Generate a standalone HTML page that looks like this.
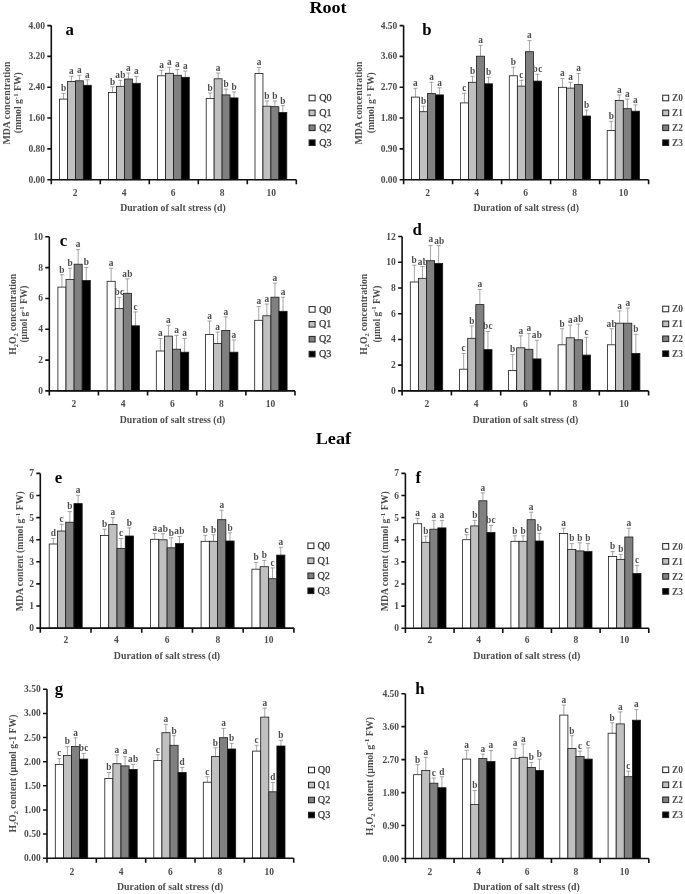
<!DOCTYPE html>
<html lang="en"><head><meta charset="utf-8"><title>MDA and H2O2 under salt stress</title>
<style>
html,body{margin:0;padding:0;background:#fff;}
body{width:685px;height:894px;overflow:hidden;}
svg{display:block;font-family:"Liberation Serif","Times New Roman",serif;}
.bar{stroke:#1a1a1a;stroke-width:0.8;}
.eb{stroke:#808080;stroke-width:0.7;fill:none;}
.ax{stroke:#111;stroke-width:1.6;fill:none;stroke-linecap:butt;}
.lt{font-size:9.3px;font-weight:bold;fill:#4c4c4c;text-anchor:middle;}
.yt{font-size:9.5px;font-weight:bold;fill:#4c4c4c;text-anchor:end;}
.xt{font-size:9.5px;font-weight:bold;fill:#4c4c4c;text-anchor:middle;}
.xl{font-size:9.6px;font-weight:bold;fill:#4c4c4c;text-anchor:middle;}
.yl{font-size:9.6px;font-weight:bold;fill:#4c4c4c;text-anchor:middle;}
.pl{font-size:16.8px;font-weight:bold;fill:#000;}
.ttl{font-size:17px;font-weight:bold;fill:#000;text-anchor:middle;}
.lg{stroke:#222;stroke-width:1;}
.lzb{font-size:9.4px;font-weight:bold;fill:#4c4c4c;}
.lzr{font-size:10.2px;font-weight:normal;fill:#333;stroke:#333;stroke-width:0.25;}
</style></head>
<body>
<svg width="685" height="894" viewBox="0 0 685 894">
<rect width="685" height="894" fill="#fff"/>
<g id="panel-a">
<path class="eb" d="M63.48 99.1V93.4M61.38 93.4H65.58"/>
<rect class="bar" x="59.5" y="99.1" width="7.95" height="80.6" fill="#ffffff"/>
<path class="eb" d="M71.42 81.6V76.3M69.33 76.3H73.52"/>
<rect class="bar" x="67.45" y="81.6" width="7.95" height="98.1" fill="#c0c0c0"/>
<path class="eb" d="M79.38 80.8V75.3M77.28 75.3H81.47"/>
<rect class="bar" x="75.4" y="80.8" width="7.95" height="98.9" fill="#808080"/>
<path class="eb" d="M87.32 85.3V79.8M85.22 79.8H89.42"/>
<rect class="bar" x="83.35" y="85.3" width="7.95" height="94.4" fill="#000000"/>
<path class="eb" d="M112.47 92.4V86.8M110.38 86.8H114.57"/>
<rect class="bar" x="108.5" y="92.4" width="7.95" height="87.3" fill="#ffffff"/>
<path class="eb" d="M120.42 86.3V80.3M118.33 80.3H122.52"/>
<rect class="bar" x="116.45" y="86.3" width="7.95" height="93.4" fill="#c0c0c0"/>
<path class="eb" d="M128.38 79V73M126.28 73H130.47"/>
<rect class="bar" x="124.4" y="79" width="7.95" height="100.7" fill="#808080"/>
<path class="eb" d="M136.32 83.3V76.5M134.22 76.5H138.42"/>
<rect class="bar" x="132.35" y="83.3" width="7.95" height="96.4" fill="#000000"/>
<path class="eb" d="M161.47 75.8V70.3M159.38 70.3H163.57"/>
<rect class="bar" x="157.5" y="75.8" width="7.95" height="103.9" fill="#ffffff"/>
<path class="eb" d="M169.42 73.3V67.2M167.32 67.2H171.52"/>
<rect class="bar" x="165.45" y="73.3" width="7.95" height="106.4" fill="#c0c0c0"/>
<path class="eb" d="M177.38 75.3V69.5M175.28 69.5H179.47"/>
<rect class="bar" x="173.4" y="75.3" width="7.95" height="104.4" fill="#808080"/>
<path class="eb" d="M185.32 77.3V71M183.22 71H187.42"/>
<rect class="bar" x="181.35" y="77.3" width="7.95" height="102.4" fill="#000000"/>
<path class="eb" d="M210.17 98.4V92.9M208.07 92.9H212.27"/>
<rect class="bar" x="206.2" y="98.4" width="7.95" height="81.3" fill="#ffffff"/>
<path class="eb" d="M218.12 78.8V73M216.02 73H220.22"/>
<rect class="bar" x="214.15" y="78.8" width="7.95" height="100.9" fill="#c0c0c0"/>
<path class="eb" d="M226.07 94.9V89.1M223.97 89.1H228.17"/>
<rect class="bar" x="222.1" y="94.9" width="7.95" height="84.8" fill="#808080"/>
<path class="eb" d="M234.02 97.9V91.9M231.92 91.9H236.12"/>
<rect class="bar" x="230.05" y="97.9" width="7.95" height="81.8" fill="#000000"/>
<path class="eb" d="M258.98 73.5V67.5M256.88 67.5H261.08"/>
<rect class="bar" x="255" y="73.5" width="7.95" height="106.2" fill="#ffffff"/>
<path class="eb" d="M266.93 106.2V100.9M264.82 100.9H269.03"/>
<rect class="bar" x="262.95" y="106.2" width="7.95" height="73.5" fill="#c0c0c0"/>
<path class="eb" d="M274.88 106.7V100.9M272.77 100.9H276.98"/>
<rect class="bar" x="270.9" y="106.7" width="7.95" height="73" fill="#808080"/>
<path class="eb" d="M282.83 112.5V105.7M280.73 105.7H284.93"/>
<rect class="bar" x="278.85" y="112.5" width="7.95" height="67.2" fill="#000000"/>
<text class="lt" x="63.48" y="91.2">b</text>
<text class="lt" x="71.42" y="74.1">a</text>
<text class="lt" x="79.38" y="73.1">a</text>
<text class="lt" x="87.32" y="77.6">a</text>
<text class="lt" x="112.47" y="84.6">b</text>
<text class="lt" letter-spacing="0.35" x="120.58" y="78.1">ab</text>
<text class="lt" x="128.38" y="70.8">a</text>
<text class="lt" x="136.32" y="74.3">a</text>
<text class="lt" x="161.47" y="68.1">a</text>
<text class="lt" x="169.42" y="65">a</text>
<text class="lt" x="177.38" y="67.3">a</text>
<text class="lt" x="185.32" y="68.8">a</text>
<text class="lt" x="210.17" y="90.7">b</text>
<text class="lt" x="218.12" y="70.8">a</text>
<text class="lt" x="226.07" y="86.9">b</text>
<text class="lt" x="234.02" y="89.7">b</text>
<text class="lt" x="258.98" y="65.3">a</text>
<text class="lt" x="266.93" y="98.7">b</text>
<text class="lt" x="274.88" y="98.7">b</text>
<text class="lt" x="282.83" y="103.5">b</text>
<path class="ax" d="M51.3 25.6V179.7H296.3M47.3 25.6H51.3M47.3 56.42H51.3M47.3 87.24H51.3M47.3 118.06H51.3M47.3 148.88H51.3M47.3 179.7H51.3M51.3 179.7V184.3M100.3 179.7V184.3M149.3 179.7V184.3M198.3 179.7V184.3M247.3 179.7V184.3M296.3 179.7V184.3"/>
<text class="yt" x="45" y="28.65">4.00</text>
<text class="yt" x="45" y="59.47">3.20</text>
<text class="yt" x="45" y="90.29">2.40</text>
<text class="yt" x="45" y="121.11">1.60</text>
<text class="yt" x="45" y="151.93">0.80</text>
<text class="yt" x="45" y="182.75">0.00</text>
<text class="xt" x="75.2" y="196">2</text>
<text class="xt" x="124.2" y="196">4</text>
<text class="xt" x="173.2" y="196">6</text>
<text class="xt" x="222.2" y="196">8</text>
<text class="xt" x="271.2" y="196">10</text>
<text class="xl" x="172.9" y="211.4" textLength="105.5" lengthAdjust="spacingAndGlyphs">Duration of salt stress (d)</text>
<text class="yl" style="font-size:9.6px" transform="translate(9.9 103) rotate(-90)" textLength="83" lengthAdjust="spacingAndGlyphs">MDA concentration</text>
<text class="yl" style="font-size:9.6px" transform="translate(21.4 102.7) rotate(-90)" textLength="61" lengthAdjust="spacingAndGlyphs">(mmol g<tspan font-size="6.91" dy="-3.46">-1</tspan><tspan dy="3.46">&#8203;</tspan> FW)</text>
<text class="pl" x="65.5" y="34.6">a</text>
<rect class="lg" x="309.1" y="95.2" width="6" height="5.6" fill="#ffffff"/>
<text class="lzr" x="319.2" y="101.1">Q0</text>
<rect class="lg" x="309.1" y="110.1" width="6" height="5.6" fill="#c0c0c0"/>
<text class="lzr" x="319.2" y="116">Q1</text>
<rect class="lg" x="309.1" y="125" width="6" height="5.6" fill="#808080"/>
<text class="lzr" x="319.2" y="130.9">Q2</text>
<rect class="lg" x="309.1" y="139.9" width="6" height="5.6" fill="#000000"/>
<text class="lzr" x="319.2" y="145.8">Q3</text>
</g>
<g id="panel-b">
<path class="eb" d="M415.42 97.1V88.3M413.32 88.3H417.52"/>
<rect class="bar" x="411.4" y="97.1" width="8.05" height="82.6" fill="#ffffff"/>
<path class="eb" d="M423.47 111.7V106.2M421.37 106.2H425.57"/>
<rect class="bar" x="419.45" y="111.7" width="8.05" height="68" fill="#c0c0c0"/>
<path class="eb" d="M431.52 93.6V82.3M429.42 82.3H433.62"/>
<rect class="bar" x="427.5" y="93.6" width="8.05" height="86.1" fill="#808080"/>
<path class="eb" d="M439.57 94.9V87.8M437.47 87.8H441.67"/>
<rect class="bar" x="435.55" y="94.9" width="8.05" height="84.8" fill="#000000"/>
<path class="eb" d="M464.42 102.9V93.4M462.32 93.4H466.52"/>
<rect class="bar" x="460.4" y="102.9" width="8.05" height="76.8" fill="#ffffff"/>
<path class="eb" d="M472.47 82.3V76.3M470.37 76.3H474.57"/>
<rect class="bar" x="468.45" y="82.3" width="8.05" height="97.4" fill="#c0c0c0"/>
<path class="eb" d="M480.52 56.2V45.4M478.42 45.4H482.62"/>
<rect class="bar" x="476.5" y="56.2" width="8.05" height="123.5" fill="#808080"/>
<path class="eb" d="M488.57 83.8V77.3M486.47 77.3H490.67"/>
<rect class="bar" x="484.55" y="83.8" width="8.05" height="95.9" fill="#000000"/>
<path class="eb" d="M513.33 75.8V67.2M511.23 67.2H515.43"/>
<rect class="bar" x="509.3" y="75.8" width="8.05" height="103.9" fill="#ffffff"/>
<path class="eb" d="M521.38 86.1V80.3M519.27 80.3H523.48"/>
<rect class="bar" x="517.35" y="86.1" width="8.05" height="93.6" fill="#c0c0c0"/>
<path class="eb" d="M529.42 51.7V40.6M527.32 40.6H531.52"/>
<rect class="bar" x="525.4" y="51.7" width="8.05" height="128" fill="#808080"/>
<path class="eb" d="M537.48 81.1V74.3M535.38 74.3H539.58"/>
<rect class="bar" x="533.45" y="81.1" width="8.05" height="98.6" fill="#000000"/>
<path class="eb" d="M562.42 87.3V78.5M560.32 78.5H564.52"/>
<rect class="bar" x="558.4" y="87.3" width="8.05" height="92.4" fill="#ffffff"/>
<path class="eb" d="M570.47 88.1V82.3M568.37 82.3H572.57"/>
<rect class="bar" x="566.45" y="88.1" width="8.05" height="91.6" fill="#c0c0c0"/>
<path class="eb" d="M578.52 84.6V73.5M576.42 73.5H580.62"/>
<rect class="bar" x="574.5" y="84.6" width="8.05" height="95.1" fill="#808080"/>
<path class="eb" d="M586.57 116V110M584.47 110H588.67"/>
<rect class="bar" x="582.55" y="116" width="8.05" height="63.7" fill="#000000"/>
<path class="eb" d="M611.23 130.6V121.3M609.12 121.3H613.33"/>
<rect class="bar" x="607.2" y="130.6" width="8.05" height="49.1" fill="#ffffff"/>
<path class="eb" d="M619.27 100.4V94.9M617.17 94.9H621.38"/>
<rect class="bar" x="615.25" y="100.4" width="8.05" height="79.3" fill="#c0c0c0"/>
<path class="eb" d="M627.33 108.7V99.1M625.23 99.1H629.43"/>
<rect class="bar" x="623.3" y="108.7" width="8.05" height="71" fill="#808080"/>
<path class="eb" d="M635.38 111.2V104.9M633.27 104.9H637.48"/>
<rect class="bar" x="631.35" y="111.2" width="8.05" height="68.5" fill="#000000"/>
<text class="lt" x="415.42" y="86.1">a</text>
<text class="lt" x="423.47" y="104">b</text>
<text class="lt" x="431.52" y="80.1">a</text>
<text class="lt" x="439.57" y="85.6">a</text>
<text class="lt" x="464.42" y="91.2">c</text>
<text class="lt" x="472.47" y="74.1">b</text>
<text class="lt" x="480.52" y="43.2">a</text>
<text class="lt" x="488.57" y="75.1">b</text>
<text class="lt" x="513.33" y="65">b</text>
<text class="lt" x="521.38" y="78.1">c</text>
<text class="lt" x="529.42" y="38.4">a</text>
<text class="lt" letter-spacing="0.35" x="537.62" y="72.1">bc</text>
<text class="lt" x="562.42" y="76.3">a</text>
<text class="lt" x="570.47" y="80.1">a</text>
<text class="lt" x="578.52" y="71.3">a</text>
<text class="lt" x="586.57" y="107.8">b</text>
<text class="lt" x="611.23" y="119.1">b</text>
<text class="lt" x="619.27" y="92.7">a</text>
<text class="lt" x="627.33" y="96.9">a</text>
<text class="lt" x="635.38" y="102.7">a</text>
<path class="ax" d="M403.6 25.6V179.7H648.6M399.6 25.6H403.6M399.6 56.42H403.6M399.6 87.24H403.6M399.6 118.06H403.6M399.6 148.88H403.6M399.6 179.7H403.6M403.6 179.7V184.3M452.6 179.7V184.3M501.6 179.7V184.3M550.6 179.7V184.3M599.6 179.7V184.3M648.6 179.7V184.3"/>
<text class="yt" x="397.3" y="28.65">4.50</text>
<text class="yt" x="397.3" y="59.47">3.60</text>
<text class="yt" x="397.3" y="90.29">2.70</text>
<text class="yt" x="397.3" y="121.11">1.80</text>
<text class="yt" x="397.3" y="151.93">0.90</text>
<text class="yt" x="397.3" y="182.75">0.00</text>
<text class="xt" x="427.5" y="196">2</text>
<text class="xt" x="476.5" y="196">4</text>
<text class="xt" x="525.5" y="196">6</text>
<text class="xt" x="574.5" y="196">8</text>
<text class="xt" x="623.5" y="196">10</text>
<text class="xl" x="526.3" y="211.4" textLength="105.5" lengthAdjust="spacingAndGlyphs">Duration of salt stress (d)</text>
<text class="yl" style="font-size:9.6px" transform="translate(362 103) rotate(-90)" textLength="83" lengthAdjust="spacingAndGlyphs">MDA concentration</text>
<text class="yl" style="font-size:9.6px" transform="translate(374 102.7) rotate(-90)" textLength="61" lengthAdjust="spacingAndGlyphs">(mmol g<tspan font-size="6.91" dy="-3.46">-1</tspan><tspan dy="3.46">&#8203;</tspan> FW)</text>
<text class="pl" x="422.2" y="34.5">b</text>
<rect class="lg" x="662.7" y="95.2" width="6" height="5.6" fill="#ffffff"/>
<text class="lzb" x="672" y="101.1">Z0</text>
<rect class="lg" x="662.7" y="110.1" width="6" height="5.6" fill="#c0c0c0"/>
<text class="lzb" x="672" y="116">Z1</text>
<rect class="lg" x="662.7" y="125" width="6" height="5.6" fill="#808080"/>
<text class="lzb" x="672" y="130.9">Z2</text>
<rect class="lg" x="662.7" y="139.9" width="6" height="5.6" fill="#000000"/>
<text class="lzb" x="672" y="145.8">Z3</text>
</g>
<g id="panel-c">
<path class="eb" d="M61.95 287.1V274.7M59.85 274.7H64.05"/>
<rect class="bar" x="57.9" y="287.1" width="8.1" height="103.8" fill="#ffffff"/>
<path class="eb" d="M70.05 279.5V268.2M67.95 268.2H72.15"/>
<rect class="bar" x="66" y="279.5" width="8.1" height="111.4" fill="#c0c0c0"/>
<path class="eb" d="M78.15 264.2V249.6M76.05 249.6H80.25"/>
<rect class="bar" x="74.1" y="264.2" width="8.1" height="126.7" fill="#808080"/>
<path class="eb" d="M86.25 280.5V267.5M84.15 267.5H88.35"/>
<rect class="bar" x="82.2" y="280.5" width="8.1" height="110.4" fill="#000000"/>
<path class="eb" d="M111.15 281.3V268.2M109.05 268.2H113.25"/>
<rect class="bar" x="107.1" y="281.3" width="8.1" height="109.6" fill="#ffffff"/>
<path class="eb" d="M119.25 308.4V297.4M117.15 297.4H121.35"/>
<rect class="bar" x="115.2" y="308.4" width="8.1" height="82.5" fill="#c0c0c0"/>
<path class="eb" d="M127.35 293.3V278.8M125.25 278.8H129.45"/>
<rect class="bar" x="123.3" y="293.3" width="8.1" height="97.6" fill="#808080"/>
<path class="eb" d="M135.45 325.8V311.9M133.35 311.9H137.55"/>
<rect class="bar" x="131.4" y="325.8" width="8.1" height="65.1" fill="#000000"/>
<path class="eb" d="M160.35 351V338.4M158.25 338.4H162.45"/>
<rect class="bar" x="156.3" y="351" width="8.1" height="39.9" fill="#ffffff"/>
<path class="eb" d="M168.45 336.1V325.3M166.35 325.3H170.55"/>
<rect class="bar" x="164.4" y="336.1" width="8.1" height="54.8" fill="#c0c0c0"/>
<path class="eb" d="M176.55 349.2V335.4M174.45 335.4H178.65"/>
<rect class="bar" x="172.5" y="349.2" width="8.1" height="41.7" fill="#808080"/>
<path class="eb" d="M184.65 352.2V338.4M182.55 338.4H186.75"/>
<rect class="bar" x="180.6" y="352.2" width="8.1" height="38.7" fill="#000000"/>
<path class="eb" d="M209.55 334.6V321M207.45 321H211.65"/>
<rect class="bar" x="205.5" y="334.6" width="8.1" height="56.3" fill="#ffffff"/>
<path class="eb" d="M217.65 343.4V332.1M215.55 332.1H219.75"/>
<rect class="bar" x="213.6" y="343.4" width="8.1" height="47.5" fill="#c0c0c0"/>
<path class="eb" d="M225.75 330.4V316.8M223.65 316.8H227.85"/>
<rect class="bar" x="221.7" y="330.4" width="8.1" height="60.5" fill="#808080"/>
<path class="eb" d="M233.85 352.2V339.9M231.75 339.9H235.95"/>
<rect class="bar" x="229.8" y="352.2" width="8.1" height="38.7" fill="#000000"/>
<path class="eb" d="M258.75 320.3V306.5M256.65 306.5H260.85"/>
<rect class="bar" x="254.7" y="320.3" width="8.1" height="70.6" fill="#ffffff"/>
<path class="eb" d="M266.85 315.8V304M264.75 304H268.95"/>
<rect class="bar" x="262.8" y="315.8" width="8.1" height="75.1" fill="#c0c0c0"/>
<path class="eb" d="M274.95 297.2V283.1M272.85 283.1H277.05"/>
<rect class="bar" x="270.9" y="297.2" width="8.1" height="93.7" fill="#808080"/>
<path class="eb" d="M283.05 311.3V297.2M280.95 297.2H285.15"/>
<rect class="bar" x="279" y="311.3" width="8.1" height="79.6" fill="#000000"/>
<text class="lt" x="61.95" y="272.5">b</text>
<text class="lt" x="70.05" y="266">b</text>
<text class="lt" x="78.15" y="247.4">a</text>
<text class="lt" x="86.25" y="265.3">b</text>
<text class="lt" x="111.15" y="266">a</text>
<text class="lt" letter-spacing="0.35" x="119.4" y="295.2">bc</text>
<text class="lt" letter-spacing="0.35" x="127.5" y="276.6">ab</text>
<text class="lt" x="135.45" y="309.7">c</text>
<text class="lt" x="160.35" y="336.2">a</text>
<text class="lt" x="168.45" y="323.1">a</text>
<text class="lt" x="176.55" y="333.2">a</text>
<text class="lt" x="184.65" y="336.2">a</text>
<text class="lt" x="209.55" y="318.8">a</text>
<text class="lt" x="217.65" y="329.9">a</text>
<text class="lt" x="225.75" y="314.6">a</text>
<text class="lt" x="233.85" y="337.7">a</text>
<text class="lt" x="258.75" y="304.3">a</text>
<text class="lt" x="266.85" y="301.8">a</text>
<text class="lt" x="274.95" y="280.9">a</text>
<text class="lt" x="283.05" y="295">a</text>
<path class="ax" d="M49.3 236.8V390.9H295M45.3 236.8H49.3M45.3 267.62H49.3M45.3 298.44H49.3M45.3 329.26H49.3M45.3 360.08H49.3M45.3 390.9H49.3M49.3 390.9V395.5M98.44 390.9V395.5M147.58 390.9V395.5M196.72 390.9V395.5M245.86 390.9V395.5M295 390.9V395.5"/>
<text class="yt" x="43" y="239.85">10</text>
<text class="yt" x="43" y="270.67">8</text>
<text class="yt" x="43" y="301.49">6</text>
<text class="yt" x="43" y="332.31">4</text>
<text class="yt" x="43" y="363.13">2</text>
<text class="yt" x="43" y="393.95">0</text>
<text class="xt" x="73.97" y="406.9">2</text>
<text class="xt" x="123.11" y="406.9">4</text>
<text class="xt" x="172.25" y="406.9">6</text>
<text class="xt" x="221.39" y="406.9">8</text>
<text class="xt" x="270.53" y="406.9">10</text>
<text class="xl" x="172.5" y="422.6" textLength="105.5" lengthAdjust="spacingAndGlyphs">Duration of salt stress (d)</text>
<text class="yl" style="font-size:9.6px" transform="translate(15.6 314.3) rotate(-90)" textLength="81" lengthAdjust="spacingAndGlyphs">H<tspan font-size="6.24" dy="2.11">2</tspan><tspan dy="-2.11">&#8203;</tspan>O<tspan font-size="6.24" dy="2.11">2</tspan><tspan dy="-2.11">&#8203;</tspan> concentration</text>
<text class="yl" style="font-size:9.6px" transform="translate(27.3 314.1) rotate(-90)" textLength="57" lengthAdjust="spacingAndGlyphs">(µmol g<tspan font-size="6.91" dy="-3.46">-1</tspan><tspan dy="3.46">&#8203;</tspan> FW)</text>
<text class="pl" x="59.8" y="245.6">c</text>
<rect class="lg" x="309.1" y="306.6" width="6" height="5.6" fill="#ffffff"/>
<text class="lzr" x="319" y="312.5">Q0</text>
<rect class="lg" x="309.1" y="321.5" width="6" height="5.6" fill="#c0c0c0"/>
<text class="lzr" x="319" y="327.4">Q1</text>
<rect class="lg" x="309.1" y="336.4" width="6" height="5.6" fill="#808080"/>
<text class="lzr" x="319" y="342.3">Q2</text>
<rect class="lg" x="309.1" y="351.3" width="6" height="5.6" fill="#000000"/>
<text class="lzr" x="319" y="357.2">Q3</text>
</g>
<g id="panel-d">
<path class="eb" d="M414.35 282V265.2M412.25 265.2H416.45"/>
<rect class="bar" x="410.3" y="282" width="8.1" height="108.9" fill="#ffffff"/>
<path class="eb" d="M422.45 278.3V266.5M420.35 266.5H424.55"/>
<rect class="bar" x="418.4" y="278.3" width="8.1" height="112.6" fill="#c0c0c0"/>
<path class="eb" d="M430.55 260.7V245.6M428.45 245.6H432.65"/>
<rect class="bar" x="426.5" y="260.7" width="8.1" height="130.2" fill="#808080"/>
<path class="eb" d="M438.65 263.4V245.6M436.55 245.6H440.75"/>
<rect class="bar" x="434.6" y="263.4" width="8.1" height="127.5" fill="#000000"/>
<path class="eb" d="M463.65 369.2V353.4M461.55 353.4H465.75"/>
<rect class="bar" x="459.6" y="369.2" width="8.1" height="21.7" fill="#ffffff"/>
<path class="eb" d="M471.75 338.3V326M469.65 326H473.85"/>
<rect class="bar" x="467.7" y="338.3" width="8.1" height="52.6" fill="#c0c0c0"/>
<path class="eb" d="M479.85 304.6V289.5M477.75 289.5H481.95"/>
<rect class="bar" x="475.8" y="304.6" width="8.1" height="86.3" fill="#808080"/>
<path class="eb" d="M487.95 349.6V331.5M485.85 331.5H490.05"/>
<rect class="bar" x="483.9" y="349.6" width="8.1" height="41.3" fill="#000000"/>
<path class="eb" d="M512.65 370.5V354.6M510.55 354.6H514.75"/>
<rect class="bar" x="508.6" y="370.5" width="8.1" height="20.4" fill="#ffffff"/>
<path class="eb" d="M520.75 347.8V335.8M518.65 335.8H522.85"/>
<rect class="bar" x="516.7" y="347.8" width="8.1" height="43.1" fill="#c0c0c0"/>
<path class="eb" d="M528.85 349.3V333.5M526.75 333.5H530.95"/>
<rect class="bar" x="524.8" y="349.3" width="8.1" height="41.6" fill="#808080"/>
<path class="eb" d="M536.95 358.9V340.3M534.85 340.3H539.05"/>
<rect class="bar" x="532.9" y="358.9" width="8.1" height="32" fill="#000000"/>
<path class="eb" d="M562.15 344.8V328.7M560.05 328.7H564.25"/>
<rect class="bar" x="558.1" y="344.8" width="8.1" height="46.1" fill="#ffffff"/>
<path class="eb" d="M570.25 337.8V325.2M568.15 325.2H572.35"/>
<rect class="bar" x="566.2" y="337.8" width="8.1" height="53.1" fill="#c0c0c0"/>
<path class="eb" d="M578.35 339.8V324M576.25 324H580.45"/>
<rect class="bar" x="574.3" y="339.8" width="8.1" height="51.1" fill="#808080"/>
<path class="eb" d="M586.45 355.1V337.3M584.35 337.3H588.55"/>
<rect class="bar" x="582.4" y="355.1" width="8.1" height="35.8" fill="#000000"/>
<path class="eb" d="M611.55 344.8V328.7M609.45 328.7H613.65"/>
<rect class="bar" x="607.5" y="344.8" width="8.1" height="46.1" fill="#ffffff"/>
<path class="eb" d="M619.65 323.2V310.9M617.55 310.9H621.75"/>
<rect class="bar" x="615.6" y="323.2" width="8.1" height="67.7" fill="#c0c0c0"/>
<path class="eb" d="M627.75 323.2V308.1M625.65 308.1H629.85"/>
<rect class="bar" x="623.7" y="323.2" width="8.1" height="67.7" fill="#808080"/>
<path class="eb" d="M635.85 353.4V334.3M633.75 334.3H637.95"/>
<rect class="bar" x="631.8" y="353.4" width="8.1" height="37.5" fill="#000000"/>
<text class="lt" x="414.05" y="263">b</text>
<text class="lt" letter-spacing="0.35" x="423" y="264.6">ab</text>
<text class="lt" x="430.85" y="242">a</text>
<text class="lt" letter-spacing="0.35" x="439.4" y="243.9">ab</text>
<text class="lt" x="463.65" y="351.2">c</text>
<text class="lt" x="471.75" y="323.8">b</text>
<text class="lt" x="479.85" y="287.3">a</text>
<text class="lt" letter-spacing="0.35" x="488.1" y="329.3">bc</text>
<text class="lt" x="512.65" y="352.4">b</text>
<text class="lt" x="520.75" y="333.6">a</text>
<text class="lt" x="528.85" y="331.3">a</text>
<text class="lt" letter-spacing="0.35" x="537.1" y="338.1">ab</text>
<text class="lt" x="562.15" y="326.5">b</text>
<text class="lt" x="570.25" y="323">a</text>
<text class="lt" letter-spacing="0.35" x="578.5" y="321.8">ab</text>
<text class="lt" x="586.45" y="335.1">c</text>
<text class="lt" letter-spacing="0.35" x="611.7" y="326.5">ab</text>
<text class="lt" x="619.65" y="308.7">a</text>
<text class="lt" x="627.75" y="305.9">a</text>
<text class="lt" x="635.85" y="332.1">b</text>
<path class="ax" d="M402.1 236.5V390.9H648.6M398.1 236.5H402.1M398.1 262.23H402.1M398.1 287.97H402.1M398.1 313.7H402.1M398.1 339.43H402.1M398.1 365.17H402.1M398.1 390.9H402.1M402.1 390.9V395.5M451.4 390.9V395.5M500.7 390.9V395.5M550 390.9V395.5M599.3 390.9V395.5M648.6 390.9V395.5"/>
<text class="yt" x="395.8" y="239.55">12</text>
<text class="yt" x="395.8" y="265.28">10</text>
<text class="yt" x="395.8" y="291.02">8</text>
<text class="yt" x="395.8" y="316.75">6</text>
<text class="yt" x="395.8" y="342.48">4</text>
<text class="yt" x="395.8" y="368.22">2</text>
<text class="yt" x="395.8" y="393.95">0</text>
<text class="xt" x="426.85" y="406.9">2</text>
<text class="xt" x="476.15" y="406.9">4</text>
<text class="xt" x="525.45" y="406.9">6</text>
<text class="xt" x="574.75" y="406.9">8</text>
<text class="xt" x="624.05" y="406.9">10</text>
<text class="xl" x="525.4" y="422.6" textLength="105.5" lengthAdjust="spacingAndGlyphs">Duration of salt stress (d)</text>
<text class="yl" style="font-size:9.6px" transform="translate(367.2 314.3) rotate(-90)" textLength="81" lengthAdjust="spacingAndGlyphs">H<tspan font-size="6.24" dy="2.11">2</tspan><tspan dy="-2.11">&#8203;</tspan>O<tspan font-size="6.24" dy="2.11">2</tspan><tspan dy="-2.11">&#8203;</tspan> concentration</text>
<text class="yl" style="font-size:9.6px" transform="translate(379.8 314.1) rotate(-90)" textLength="57" lengthAdjust="spacingAndGlyphs">(µmol g<tspan font-size="6.91" dy="-3.46">-1</tspan><tspan dy="3.46">&#8203;</tspan> FW)</text>
<text class="pl" x="412.4" y="234.8">d</text>
<rect class="lg" x="662.7" y="306.2" width="6" height="5.6" fill="#ffffff"/>
<text class="lzb" x="672" y="312.1">Z0</text>
<rect class="lg" x="662.7" y="321.1" width="6" height="5.6" fill="#c0c0c0"/>
<text class="lzb" x="672" y="327">Z1</text>
<rect class="lg" x="662.7" y="336" width="6" height="5.6" fill="#808080"/>
<text class="lzb" x="672" y="341.9">Z2</text>
<rect class="lg" x="662.7" y="350.9" width="6" height="5.6" fill="#000000"/>
<text class="lzb" x="672" y="356.8">Z3</text>
</g>
<g id="panel-e">
<path class="eb" d="M53.33 544V538.5M51.23 538.5H55.43"/>
<rect class="bar" x="49.2" y="544" width="8.25" height="84.1" fill="#ffffff"/>
<path class="eb" d="M61.58 531V524.2M59.48 524.2H63.68"/>
<rect class="bar" x="57.45" y="531" width="8.25" height="97.1" fill="#c0c0c0"/>
<path class="eb" d="M69.83 522.2V511.6M67.73 511.6H71.92"/>
<rect class="bar" x="65.7" y="522.2" width="8.25" height="105.9" fill="#808080"/>
<path class="eb" d="M78.08 503.6V495.3M75.98 495.3H80.17"/>
<rect class="bar" x="73.95" y="503.6" width="8.25" height="124.5" fill="#000000"/>
<path class="eb" d="M104.62 535.5V529.2M102.53 529.2H106.72"/>
<rect class="bar" x="100.5" y="535.5" width="8.25" height="92.6" fill="#ffffff"/>
<path class="eb" d="M112.88 524.4V517.6M110.78 517.6H114.97"/>
<rect class="bar" x="108.75" y="524.4" width="8.25" height="103.7" fill="#c0c0c0"/>
<path class="eb" d="M121.12 548.5V538.5M119.03 538.5H123.22"/>
<rect class="bar" x="117" y="548.5" width="8.25" height="79.6" fill="#808080"/>
<path class="eb" d="M129.38 536V527.9M127.28 527.9H131.47"/>
<rect class="bar" x="125.25" y="536" width="8.25" height="92.1" fill="#000000"/>
<path class="eb" d="M154.72 539.3V533.5M152.62 533.5H156.82"/>
<rect class="bar" x="150.6" y="539.3" width="8.25" height="88.8" fill="#ffffff"/>
<path class="eb" d="M162.97 539.8V533.8M160.88 533.8H165.07"/>
<rect class="bar" x="158.85" y="539.8" width="8.25" height="88.3" fill="#c0c0c0"/>
<path class="eb" d="M171.22 547.8V537.8M169.12 537.8H173.32"/>
<rect class="bar" x="167.1" y="547.8" width="8.25" height="80.3" fill="#808080"/>
<path class="eb" d="M179.47 543.6V536.5M177.38 536.5H181.57"/>
<rect class="bar" x="175.35" y="543.6" width="8.25" height="84.5" fill="#000000"/>
<path class="eb" d="M205.22 541.3V535.3M203.12 535.3H207.32"/>
<rect class="bar" x="201.1" y="541.3" width="8.25" height="86.8" fill="#ffffff"/>
<path class="eb" d="M213.47 541.3V534.8M211.38 534.8H215.57"/>
<rect class="bar" x="209.35" y="541.3" width="8.25" height="86.8" fill="#c0c0c0"/>
<path class="eb" d="M221.72 519.7V510.2M219.62 510.2H223.82"/>
<rect class="bar" x="217.6" y="519.7" width="8.25" height="108.4" fill="#808080"/>
<path class="eb" d="M229.97 541V532.8M227.88 532.8H232.07"/>
<rect class="bar" x="225.85" y="541" width="8.25" height="87.1" fill="#000000"/>
<path class="eb" d="M256.02 569.2V562.4M253.92 562.4H258.12"/>
<rect class="bar" x="251.9" y="569.2" width="8.25" height="58.9" fill="#ffffff"/>
<path class="eb" d="M264.27 566.7V560.4M262.17 560.4H266.38"/>
<rect class="bar" x="260.15" y="566.7" width="8.25" height="61.4" fill="#c0c0c0"/>
<path class="eb" d="M272.52 578.7V567.9M270.42 567.9H274.62"/>
<rect class="bar" x="268.4" y="578.7" width="8.25" height="49.4" fill="#808080"/>
<path class="eb" d="M280.77 555.1V547.3M278.67 547.3H282.88"/>
<rect class="bar" x="276.65" y="555.1" width="8.25" height="73" fill="#000000"/>
<text class="lt" x="53.33" y="536.3">d</text>
<text class="lt" x="61.58" y="522">c</text>
<text class="lt" x="69.83" y="509.4">b</text>
<text class="lt" x="78.08" y="493.1">a</text>
<text class="lt" x="104.62" y="527">b</text>
<text class="lt" x="112.88" y="515.4">a</text>
<text class="lt" x="121.12" y="536.3">c</text>
<text class="lt" x="129.38" y="525.7">b</text>
<text class="lt" x="154.72" y="531.3">a</text>
<text class="lt" letter-spacing="0.35" x="163.12" y="531.6">ab</text>
<text class="lt" x="171.22" y="535.6">b</text>
<text class="lt" letter-spacing="0.35" x="179.62" y="534.3">ab</text>
<text class="lt" x="205.22" y="533.1">b</text>
<text class="lt" x="213.47" y="532.6">b</text>
<text class="lt" x="221.72" y="508">a</text>
<text class="lt" x="229.97" y="530.6">b</text>
<text class="lt" x="256.02" y="560.2">b</text>
<text class="lt" x="264.27" y="558.2">b</text>
<text class="lt" x="272.52" y="565.7">c</text>
<text class="lt" x="280.77" y="545.1">a</text>
<path class="ax" d="M40.3 473.4V628.1H293.9M36.3 473.4H40.3M36.3 495.5H40.3M36.3 517.6H40.3M36.3 539.7H40.3M36.3 561.8H40.3M36.3 583.9H40.3M36.3 606H40.3M36.3 628.1H40.3M40.3 628.1V632.7M91.02 628.1V632.7M141.74 628.1V632.7M192.46 628.1V632.7M243.18 628.1V632.7M293.9 628.1V632.7"/>
<text class="yt" x="34" y="476.45">7</text>
<text class="yt" x="34" y="498.55">6</text>
<text class="yt" x="34" y="520.65">5</text>
<text class="yt" x="34" y="542.75">4</text>
<text class="yt" x="34" y="564.85">3</text>
<text class="yt" x="34" y="586.95">2</text>
<text class="yt" x="34" y="609.05">1</text>
<text class="yt" x="34" y="631.15">0</text>
<text class="xt" x="65.76" y="643">2</text>
<text class="xt" x="116.48" y="643">4</text>
<text class="xt" x="167.2" y="643">6</text>
<text class="xt" x="217.92" y="643">8</text>
<text class="xt" x="268.64" y="643">10</text>
<text class="xl" x="167" y="658.8" textLength="106.3" lengthAdjust="spacingAndGlyphs">Duration of salt stress (d)</text>
<text class="yl" style="font-size:9.6px" transform="translate(23.2 551.3) rotate(-90)" textLength="120" lengthAdjust="spacingAndGlyphs">MDA content (mmol g<tspan font-size="6.91" dy="-3.46">-1</tspan><tspan dy="3.46">&#8203;</tspan> FW)</text>
<text class="pl" x="54.8" y="482.7">e</text>
<rect class="lg" x="307.9" y="543" width="6" height="5.6" fill="#ffffff"/>
<text class="lzr" x="317.4" y="548.9">Q0</text>
<rect class="lg" x="307.9" y="558" width="6" height="5.6" fill="#c0c0c0"/>
<text class="lzr" x="317.4" y="563.9">Q1</text>
<rect class="lg" x="307.9" y="573" width="6" height="5.6" fill="#808080"/>
<text class="lzr" x="317.4" y="578.9">Q2</text>
<rect class="lg" x="307.9" y="588" width="6" height="5.6" fill="#000000"/>
<text class="lzr" x="317.4" y="593.9">Q3</text>
</g>
<g id="panel-f">
<path class="eb" d="M417.65 523.7V518.4M415.55 518.4H419.75"/>
<rect class="bar" x="413.6" y="523.7" width="8.1" height="104.6" fill="#ffffff"/>
<path class="eb" d="M425.75 542.3V536.2M423.65 536.2H427.85"/>
<rect class="bar" x="421.7" y="542.3" width="8.1" height="86" fill="#c0c0c0"/>
<path class="eb" d="M433.85 529.2V520.4M431.75 520.4H435.95"/>
<rect class="bar" x="429.8" y="529.2" width="8.1" height="99.1" fill="#808080"/>
<path class="eb" d="M441.95 527.9V520.4M439.85 520.4H444.05"/>
<rect class="bar" x="437.9" y="527.9" width="8.1" height="100.4" fill="#000000"/>
<path class="eb" d="M466.65 539.7V534.7M464.55 534.7H468.75"/>
<rect class="bar" x="462.6" y="539.7" width="8.1" height="88.6" fill="#ffffff"/>
<path class="eb" d="M474.75 525.9V520.4M472.65 520.4H476.85"/>
<rect class="bar" x="470.7" y="525.9" width="8.1" height="102.4" fill="#c0c0c0"/>
<path class="eb" d="M482.85 500.8V492.8M480.75 492.8H484.95"/>
<rect class="bar" x="478.8" y="500.8" width="8.1" height="127.5" fill="#808080"/>
<path class="eb" d="M490.95 532.5V525.4M488.85 525.4H493.05"/>
<rect class="bar" x="486.9" y="532.5" width="8.1" height="95.8" fill="#000000"/>
<path class="eb" d="M514.95 541.3V535.8M512.85 535.8H517.05"/>
<rect class="bar" x="510.9" y="541.3" width="8.1" height="87" fill="#ffffff"/>
<path class="eb" d="M523.05 541.3V535.8M520.95 535.8H525.15"/>
<rect class="bar" x="519" y="541.3" width="8.1" height="87" fill="#c0c0c0"/>
<path class="eb" d="M531.15 519.7V512.2M529.05 512.2H533.25"/>
<rect class="bar" x="527.1" y="519.7" width="8.1" height="108.6" fill="#808080"/>
<path class="eb" d="M539.25 541V533.3M537.15 533.3H541.35"/>
<rect class="bar" x="535.2" y="541" width="8.1" height="87.3" fill="#000000"/>
<path class="eb" d="M563.65 533.5V528.2M561.55 528.2H565.75"/>
<rect class="bar" x="559.6" y="533.5" width="8.1" height="94.8" fill="#ffffff"/>
<path class="eb" d="M571.75 549.6V543.6M569.65 543.6H573.85"/>
<rect class="bar" x="567.7" y="549.6" width="8.1" height="78.7" fill="#c0c0c0"/>
<path class="eb" d="M579.85 550.9V542.8M577.75 542.8H581.95"/>
<rect class="bar" x="575.8" y="550.9" width="8.1" height="77.4" fill="#808080"/>
<path class="eb" d="M587.95 551.6V543.6M585.85 543.6H590.05"/>
<rect class="bar" x="583.9" y="551.6" width="8.1" height="76.7" fill="#000000"/>
<path class="eb" d="M612.65 556.6V551.6M610.55 551.6H614.75"/>
<rect class="bar" x="608.6" y="556.6" width="8.1" height="71.7" fill="#ffffff"/>
<path class="eb" d="M620.75 559.6V554.4M618.65 554.4H622.85"/>
<rect class="bar" x="616.7" y="559.6" width="8.1" height="68.7" fill="#c0c0c0"/>
<path class="eb" d="M628.85 537V528.2M626.75 528.2H630.95"/>
<rect class="bar" x="624.8" y="537" width="8.1" height="91.3" fill="#808080"/>
<path class="eb" d="M636.95 573.5V565.4M634.85 565.4H639.05"/>
<rect class="bar" x="632.9" y="573.5" width="8.1" height="54.8" fill="#000000"/>
<text class="lt" x="417.65" y="516.2">a</text>
<text class="lt" x="425.75" y="534">b</text>
<text class="lt" x="433.85" y="518.2">a</text>
<text class="lt" x="441.95" y="518.2">a</text>
<text class="lt" x="466.65" y="532.5">c</text>
<text class="lt" x="474.75" y="518.2">b</text>
<text class="lt" x="482.85" y="490.6">a</text>
<text class="lt" letter-spacing="0.35" x="491.1" y="523.2">bc</text>
<text class="lt" x="514.95" y="533.6">b</text>
<text class="lt" x="523.05" y="533.6">b</text>
<text class="lt" x="531.15" y="510">a</text>
<text class="lt" x="539.25" y="531.1">b</text>
<text class="lt" x="563.65" y="526">a</text>
<text class="lt" x="571.75" y="541.4">b</text>
<text class="lt" x="579.85" y="540.6">b</text>
<text class="lt" x="587.95" y="541.4">b</text>
<text class="lt" x="612.65" y="549.4">b</text>
<text class="lt" x="620.75" y="552.2">b</text>
<text class="lt" x="628.85" y="526">a</text>
<text class="lt" x="636.95" y="563.2">c</text>
<path class="ax" d="M405.4 473.4V628.3H648.8M401.4 473.4H405.4M401.4 495.53H405.4M401.4 517.66H405.4M401.4 539.79H405.4M401.4 561.91H405.4M401.4 584.04H405.4M401.4 606.17H405.4M401.4 628.3H405.4M405.4 628.3V632.9M454.08 628.3V632.9M502.76 628.3V632.9M551.44 628.3V632.9M600.12 628.3V632.9M648.8 628.3V632.9"/>
<text class="yt" x="399.1" y="476.45">7</text>
<text class="yt" x="399.1" y="498.58">6</text>
<text class="yt" x="399.1" y="520.71">5</text>
<text class="yt" x="399.1" y="542.84">4</text>
<text class="yt" x="399.1" y="564.96">3</text>
<text class="yt" x="399.1" y="587.09">2</text>
<text class="yt" x="399.1" y="609.22">1</text>
<text class="yt" x="399.1" y="631.35">0</text>
<text class="xt" x="429.84" y="643">2</text>
<text class="xt" x="478.52" y="643">4</text>
<text class="xt" x="527.2" y="643">6</text>
<text class="xt" x="575.88" y="643">8</text>
<text class="xt" x="624.56" y="643">10</text>
<text class="xl" x="526.8" y="659.2" textLength="107" lengthAdjust="spacingAndGlyphs">Duration of salt stress (d)</text>
<text class="yl" style="font-size:9.6px" transform="translate(388.2 551.3) rotate(-90)" textLength="120" lengthAdjust="spacingAndGlyphs">MDA content (mmol g<tspan font-size="6.91" dy="-3.46">-1</tspan><tspan dy="3.46">&#8203;</tspan> FW)</text>
<text class="pl" x="415.4" y="482.7">f</text>
<rect class="lg" x="662.7" y="543.6" width="6" height="5.6" fill="#ffffff"/>
<text class="lzb" x="672" y="549.5">Z0</text>
<rect class="lg" x="662.7" y="558.6" width="6" height="5.6" fill="#c0c0c0"/>
<text class="lzb" x="672" y="564.5">Z1</text>
<rect class="lg" x="662.7" y="573.6" width="6" height="5.6" fill="#808080"/>
<text class="lzb" x="672" y="579.5">Z2</text>
<rect class="lg" x="662.7" y="588.6" width="6" height="5.6" fill="#000000"/>
<text class="lzb" x="672" y="594.5">Z3</text>
</g>
<g id="panel-g">
<path class="eb" d="M59.35 764.4V758.6M57.25 758.6H61.45"/>
<rect class="bar" x="55.3" y="764.4" width="8.1" height="93.8" fill="#ffffff"/>
<path class="eb" d="M67.45 755.4V746.6M65.35 746.6H69.55"/>
<rect class="bar" x="63.4" y="755.4" width="8.1" height="102.8" fill="#c0c0c0"/>
<path class="eb" d="M75.55 746.6V737.8M73.45 737.8H77.65"/>
<rect class="bar" x="71.5" y="746.6" width="8.1" height="111.6" fill="#808080"/>
<path class="eb" d="M83.65 759.1V753.4M81.55 753.4H85.75"/>
<rect class="bar" x="79.6" y="759.1" width="8.1" height="99.1" fill="#000000"/>
<path class="eb" d="M108.85 778.5V772.5M106.75 772.5H110.95"/>
<rect class="bar" x="104.8" y="778.5" width="8.1" height="79.7" fill="#ffffff"/>
<path class="eb" d="M116.95 763.7V754.9M114.85 754.9H119.05"/>
<rect class="bar" x="112.9" y="763.7" width="8.1" height="94.5" fill="#c0c0c0"/>
<path class="eb" d="M125.05 765.9V756.6M122.95 756.6H127.15"/>
<rect class="bar" x="121" y="765.9" width="8.1" height="92.3" fill="#808080"/>
<path class="eb" d="M133.15 769.4V764.4M131.05 764.4H135.25"/>
<rect class="bar" x="129.1" y="769.4" width="8.1" height="88.8" fill="#000000"/>
<path class="eb" d="M157.85 760.4V754.8M155.75 754.8H159.95"/>
<rect class="bar" x="153.8" y="760.4" width="8.1" height="97.8" fill="#ffffff"/>
<path class="eb" d="M165.95 732.7V724.4M163.85 724.4H168.05"/>
<rect class="bar" x="161.9" y="732.7" width="8.1" height="125.5" fill="#c0c0c0"/>
<path class="eb" d="M174.05 745.3V735.7M171.95 735.7H176.15"/>
<rect class="bar" x="170" y="745.3" width="8.1" height="112.9" fill="#808080"/>
<path class="eb" d="M182.15 772.4V767.4M180.05 767.4H184.25"/>
<rect class="bar" x="178.1" y="772.4" width="8.1" height="85.8" fill="#000000"/>
<path class="eb" d="M207.35 782.2V776.7M205.25 776.7H209.45"/>
<rect class="bar" x="203.3" y="782.2" width="8.1" height="76" fill="#ffffff"/>
<path class="eb" d="M215.45 756.6V747.8M213.35 747.8H217.55"/>
<rect class="bar" x="211.4" y="756.6" width="8.1" height="101.6" fill="#c0c0c0"/>
<path class="eb" d="M223.55 737.7V728.4M221.45 728.4H225.65"/>
<rect class="bar" x="219.5" y="737.7" width="8.1" height="120.5" fill="#808080"/>
<path class="eb" d="M231.65 749V743.3M229.55 743.3H233.75"/>
<rect class="bar" x="227.6" y="749" width="8.1" height="109.2" fill="#000000"/>
<path class="eb" d="M256.65 751.1V745.3M254.55 745.3H258.75"/>
<rect class="bar" x="252.6" y="751.1" width="8.1" height="107.1" fill="#ffffff"/>
<path class="eb" d="M264.75 717.1V708.1M262.65 708.1H266.85"/>
<rect class="bar" x="260.7" y="717.1" width="8.1" height="141.1" fill="#c0c0c0"/>
<path class="eb" d="M272.85 791.8V782.5M270.75 782.5H274.95"/>
<rect class="bar" x="268.8" y="791.8" width="8.1" height="66.4" fill="#808080"/>
<path class="eb" d="M280.95 746V740.3M278.85 740.3H283.05"/>
<rect class="bar" x="276.9" y="746" width="8.1" height="112.2" fill="#000000"/>
<text class="lt" x="59.35" y="756.4">c</text>
<text class="lt" x="67.45" y="744.4">b</text>
<text class="lt" x="75.55" y="735.6">a</text>
<text class="lt" letter-spacing="0.35" x="83.8" y="751.2">bc</text>
<text class="lt" x="108.85" y="770.3">b</text>
<text class="lt" x="116.95" y="752.7">a</text>
<text class="lt" x="125.05" y="754.4">a</text>
<text class="lt" letter-spacing="0.35" x="133.3" y="762.2">ab</text>
<text class="lt" x="157.85" y="752.6">c</text>
<text class="lt" x="165.95" y="722.2">a</text>
<text class="lt" x="174.05" y="733.5">b</text>
<text class="lt" x="182.15" y="765.2">d</text>
<text class="lt" x="207.35" y="774.5">c</text>
<text class="lt" x="215.45" y="745.6">b</text>
<text class="lt" x="223.55" y="726.2">a</text>
<text class="lt" x="231.65" y="741.1">b</text>
<text class="lt" x="256.65" y="743.1">c</text>
<text class="lt" x="264.75" y="705.9">a</text>
<text class="lt" x="272.85" y="780.3">d</text>
<text class="lt" x="280.95" y="738.1">b</text>
<path class="ax" d="M47 689.3V858.2H293.7M43 689.3H47M43 713.43H47M43 737.56H47M43 761.69H47M43 785.81H47M43 809.94H47M43 834.07H47M43 858.2H47M47 858.2V862.8M96.34 858.2V862.8M145.68 858.2V862.8M195.02 858.2V862.8M244.36 858.2V862.8M293.7 858.2V862.8"/>
<text class="yt" x="40.7" y="692.35">3.50</text>
<text class="yt" x="40.7" y="716.48">3.00</text>
<text class="yt" x="40.7" y="740.61">2.50</text>
<text class="yt" x="40.7" y="764.74">2.00</text>
<text class="yt" x="40.7" y="788.86">1.50</text>
<text class="yt" x="40.7" y="812.99">1.00</text>
<text class="yt" x="40.7" y="837.12">0.50</text>
<text class="yt" x="40.7" y="861.25">0.00</text>
<text class="xt" x="71.77" y="874.6">2</text>
<text class="xt" x="121.11" y="874.6">4</text>
<text class="xt" x="170.45" y="874.6">6</text>
<text class="xt" x="219.79" y="874.6">8</text>
<text class="xt" x="269.13" y="874.6">10</text>
<text class="xl" x="170.1" y="890.3" textLength="106.2" lengthAdjust="spacingAndGlyphs">Duration of salt stress (d)</text>
<text class="yl" style="font-size:9.6px" transform="translate(15.6 773.6) rotate(-90)" textLength="118" lengthAdjust="spacingAndGlyphs">H<tspan font-size="6.24" dy="2.11">2</tspan><tspan dy="-2.11">&#8203;</tspan>O<tspan font-size="6.24" dy="2.11">2</tspan><tspan dy="-2.11">&#8203;</tspan> content (µmol g-1 FW)</text>
<text class="pl" x="54.8" y="693.6">g</text>
<rect class="lg" x="308.5" y="767.2" width="6" height="5.6" fill="#ffffff"/>
<text class="lzr" x="317.8" y="773.1">Q0</text>
<rect class="lg" x="308.5" y="782.2" width="6" height="5.6" fill="#c0c0c0"/>
<text class="lzr" x="317.8" y="788.1">Q1</text>
<rect class="lg" x="308.5" y="797.2" width="6" height="5.6" fill="#808080"/>
<text class="lzr" x="317.8" y="803.1">Q2</text>
<rect class="lg" x="308.5" y="812.2" width="6" height="5.6" fill="#000000"/>
<text class="lzr" x="317.8" y="818.1">Q3</text>
</g>
<g id="panel-h">
<path class="eb" d="M417.65 774.7V764.7M415.55 764.7H419.75"/>
<rect class="bar" x="413.6" y="774.7" width="8.1" height="83.8" fill="#ffffff"/>
<path class="eb" d="M425.75 770.5V757.4M423.65 757.4H427.85"/>
<rect class="bar" x="421.7" y="770.5" width="8.1" height="88" fill="#c0c0c0"/>
<path class="eb" d="M433.85 783.2V778M431.75 778H435.95"/>
<rect class="bar" x="429.8" y="783.2" width="8.1" height="75.3" fill="#808080"/>
<path class="eb" d="M441.95 787.7V776.7M439.85 776.7H444.05"/>
<rect class="bar" x="437.9" y="787.7" width="8.1" height="70.8" fill="#000000"/>
<path class="eb" d="M466.65 759.1V750.3M464.55 750.3H468.75"/>
<rect class="bar" x="462.6" y="759.1" width="8.1" height="99.4" fill="#ffffff"/>
<path class="eb" d="M474.75 804.6V790.5M472.65 790.5H476.85"/>
<rect class="bar" x="470.7" y="804.6" width="8.1" height="53.9" fill="#c0c0c0"/>
<path class="eb" d="M482.85 758.6V754.1M480.75 754.1H484.95"/>
<rect class="bar" x="478.8" y="758.6" width="8.1" height="99.9" fill="#808080"/>
<path class="eb" d="M490.95 761.6V750.6M488.85 750.6H493.05"/>
<rect class="bar" x="486.9" y="761.6" width="8.1" height="96.9" fill="#000000"/>
<path class="eb" d="M515.15 758.3V748.5M513.05 748.5H517.25"/>
<rect class="bar" x="511.1" y="758.3" width="8.1" height="100.2" fill="#ffffff"/>
<path class="eb" d="M523.25 757.3V744M521.15 744H525.35"/>
<rect class="bar" x="519.2" y="757.3" width="8.1" height="101.2" fill="#c0c0c0"/>
<path class="eb" d="M531.35 767.4V762.4M529.25 762.4H533.45"/>
<rect class="bar" x="527.3" y="767.4" width="8.1" height="91.1" fill="#808080"/>
<path class="eb" d="M539.45 770.4V759.1M537.35 759.1H541.55"/>
<rect class="bar" x="535.4" y="770.4" width="8.1" height="88.1" fill="#000000"/>
<path class="eb" d="M563.85 715.1V705.1M561.75 705.1H565.95"/>
<rect class="bar" x="559.8" y="715.1" width="8.1" height="143.4" fill="#ffffff"/>
<path class="eb" d="M571.95 748.5V735.7M569.85 735.7H574.05"/>
<rect class="bar" x="567.9" y="748.5" width="8.1" height="110" fill="#c0c0c0"/>
<path class="eb" d="M580.05 756.6V751.1M577.95 751.1H582.15"/>
<rect class="bar" x="576" y="756.6" width="8.1" height="101.9" fill="#808080"/>
<path class="eb" d="M588.15 759.1V747.8M586.05 747.8H590.25"/>
<rect class="bar" x="584.1" y="759.1" width="8.1" height="99.4" fill="#000000"/>
<path class="eb" d="M612.15 733.2V722.7M610.05 722.7H614.25"/>
<rect class="bar" x="608.1" y="733.2" width="8.1" height="125.3" fill="#ffffff"/>
<path class="eb" d="M620.25 723.9V711.9M618.15 711.9H622.35"/>
<rect class="bar" x="616.2" y="723.9" width="8.1" height="134.6" fill="#c0c0c0"/>
<path class="eb" d="M628.35 776.7V771.2M626.25 771.2H630.45"/>
<rect class="bar" x="624.3" y="776.7" width="8.1" height="81.8" fill="#808080"/>
<path class="eb" d="M636.45 720.2V709.6M634.35 709.6H638.55"/>
<rect class="bar" x="632.4" y="720.2" width="8.1" height="138.3" fill="#000000"/>
<text class="lt" x="417.65" y="762.5">b</text>
<text class="lt" x="425.75" y="755.2">a</text>
<text class="lt" x="433.85" y="775.8">c</text>
<text class="lt" x="441.95" y="774.5">d</text>
<text class="lt" x="466.65" y="748.1">a</text>
<text class="lt" x="474.75" y="788.3">b</text>
<text class="lt" x="482.85" y="751.9">a</text>
<text class="lt" x="490.95" y="748.4">a</text>
<text class="lt" x="515.15" y="746.3">a</text>
<text class="lt" x="523.25" y="741.8">a</text>
<text class="lt" x="531.35" y="760.2">b</text>
<text class="lt" x="539.45" y="756.9">b</text>
<text class="lt" x="563.85" y="702.9">a</text>
<text class="lt" x="571.95" y="733.5">b</text>
<text class="lt" x="580.05" y="748.9">c</text>
<text class="lt" x="588.15" y="745.6">c</text>
<text class="lt" x="612.15" y="720.5">b</text>
<text class="lt" x="620.25" y="709.7">a</text>
<text class="lt" x="628.35" y="769">c</text>
<text class="lt" x="636.45" y="707.4">a</text>
<path class="ax" d="M405.4 693.7V858.5H648.8M401.4 693.7H405.4M401.4 726.66H405.4M401.4 759.62H405.4M401.4 792.58H405.4M401.4 825.54H405.4M401.4 858.5H405.4M405.4 858.5V863.1M454.08 858.5V863.1M502.76 858.5V863.1M551.44 858.5V863.1M600.12 858.5V863.1M648.8 858.5V863.1"/>
<text class="yt" x="399.1" y="696.75">4.50</text>
<text class="yt" x="399.1" y="729.71">3.60</text>
<text class="yt" x="399.1" y="762.67">2.70</text>
<text class="yt" x="399.1" y="795.63">1.80</text>
<text class="yt" x="399.1" y="828.59">0.90</text>
<text class="yt" x="399.1" y="861.55">0.00</text>
<text class="xt" x="429.84" y="874.6">2</text>
<text class="xt" x="478.52" y="874.6">4</text>
<text class="xt" x="527.2" y="874.6">6</text>
<text class="xt" x="575.88" y="874.6">8</text>
<text class="xt" x="624.56" y="874.6">10</text>
<text class="xl" x="526.5" y="890.3" textLength="106.5" lengthAdjust="spacingAndGlyphs">Duration of salt stress (d)</text>
<text class="yl" style="font-size:9.6px" transform="translate(372.6 776.2) rotate(-90)" textLength="118.6" lengthAdjust="spacingAndGlyphs">H<tspan font-size="6.24" dy="2.11">2</tspan><tspan dy="-2.11">&#8203;</tspan>O<tspan font-size="6.24" dy="2.11">2</tspan><tspan dy="-2.11">&#8203;</tspan> content (µmol g<tspan font-size="6.91" dy="-3.46">-1</tspan><tspan dy="3.46">&#8203;</tspan> FW)</text>
<text class="pl" x="415.3" y="693.8">h</text>
<rect class="lg" x="662.7" y="767" width="6" height="5.6" fill="#ffffff"/>
<text class="lzb" x="672" y="772.9">Z0</text>
<rect class="lg" x="662.7" y="782" width="6" height="5.6" fill="#c0c0c0"/>
<text class="lzb" x="672" y="787.9">Z1</text>
<rect class="lg" x="662.7" y="797" width="6" height="5.6" fill="#808080"/>
<text class="lzb" x="672" y="802.9">Z2</text>
<rect class="lg" x="662.7" y="812" width="6" height="5.6" fill="#000000"/>
<text class="lzb" x="672" y="817.9">Z3</text>
</g>
<text class="ttl" x="328" y="13.1" textLength="37.2" lengthAdjust="spacingAndGlyphs">Root</text>
<text class="ttl" x="333.4" y="443.9" textLength="35.4" lengthAdjust="spacingAndGlyphs">Leaf</text>
</svg>
</body></html>
